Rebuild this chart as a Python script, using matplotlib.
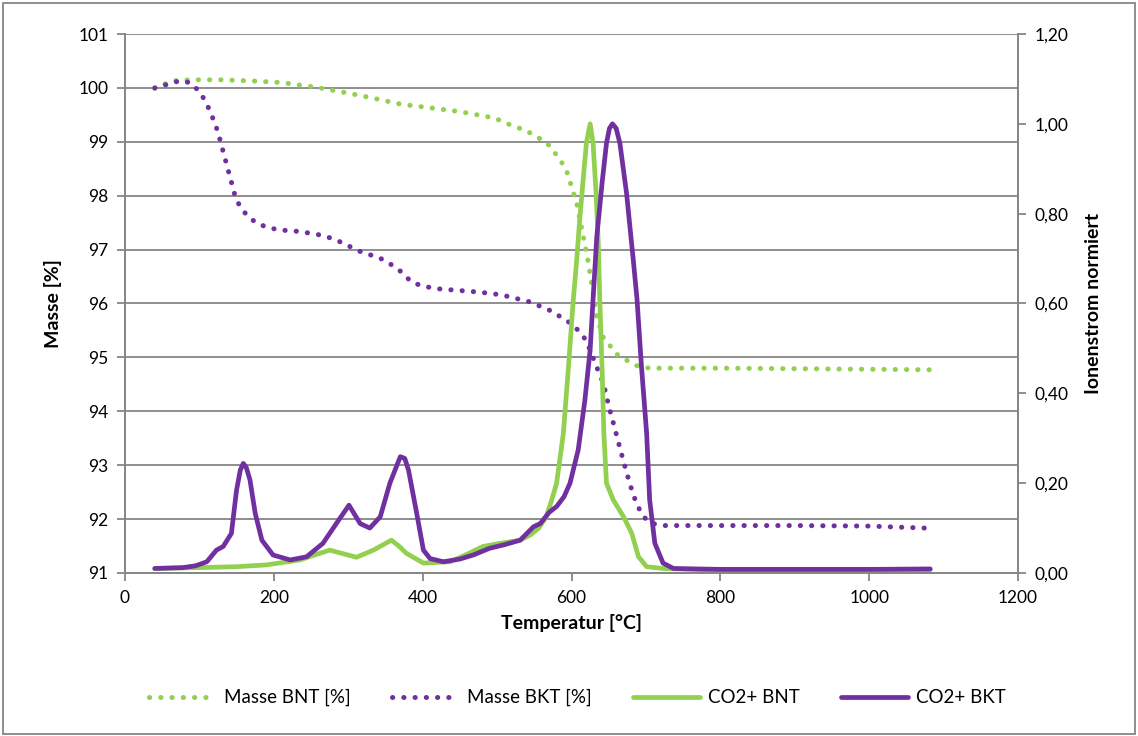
import matplotlib

matplotlib.use("Agg")
import matplotlib.pyplot as plt
from matplotlib.patches import Rectangle
from matplotlib.ticker import FuncFormatter

plt.rcParams["font.family"] = ["Lato", "DejaVu Sans"]

GREEN = "#92D050"
PURPLE = "#7030A0"
GRAY = "#868686"

# Masse BNT [%] (left axis)
t_mass_bnt = [40, 55, 70, 90, 130, 170, 210, 253, 290, 330, 370, 410, 450, 497, 511,
              540, 567, 583, 593, 607, 616, 622, 627, 634, 643, 663, 690, 705, 800,
              900, 1000, 1082]
mass_bnt = [99.99, 100.08, 100.14, 100.15, 100.15, 100.13, 100.10, 100.02, 99.93,
            99.82, 99.70, 99.63, 99.56, 99.44, 99.35, 99.20, 98.98, 98.70, 98.48,
            97.86, 97.23, 96.80, 96.38, 95.75, 95.36, 95.03, 94.83, 94.80, 94.80,
            94.79, 94.78, 94.77]

# Masse BKT [%] (left axis)
t_mass_bkt = [40, 58, 73, 87, 99, 107, 114, 120, 125, 129, 137, 145, 149, 157, 167,
              180, 195, 210, 225, 241, 256, 271, 285, 299, 313, 328, 343, 358, 370,
              385, 400, 423, 450, 477, 500, 515, 544, 573, 598, 610, 620, 631, 643,
              650, 658, 666, 674, 683, 689, 696, 705, 722, 800, 900, 1000, 1082]
mass_bkt = [100.00, 100.07, 100.13, 100.10, 99.95, 99.78, 99.58, 99.37, 99.18, 98.97,
            98.56, 98.15, 97.94, 97.75, 97.59, 97.47, 97.40, 97.36, 97.35, 97.32,
            97.29, 97.24, 97.17, 97.08, 96.98, 96.91, 96.84, 96.72, 96.60, 96.40,
            96.32, 96.27, 96.24, 96.21, 96.17, 96.13, 96.03, 95.86, 95.64, 95.49,
            95.31, 94.92, 94.51, 94.10, 93.69, 93.27, 92.86, 92.45, 92.24, 92.06,
            91.93, 91.88, 91.88, 91.88, 91.87, 91.83]

# CO2+ BNT, normalised ion current (right axis)
t_co2_bnt = [40, 101, 150, 190, 235, 255, 275, 293, 311, 334, 358, 368, 378, 401, 437,
             460, 481, 504, 531, 545, 556, 566, 573, 580, 589, 596, 602, 607, 611, 616,
             620, 625, 629, 633, 636, 638, 641, 643.5, 647, 656, 670, 681, 690, 701,
             723, 800, 900, 1000, 1082]
co2_bnt = [0.010, 0.012, 0.014, 0.018, 0.029, 0.040, 0.051, 0.043, 0.035, 0.051, 0.073,
           0.060, 0.044, 0.022, 0.025, 0.042, 0.059, 0.066, 0.073, 0.085, 0.100, 0.125,
           0.160, 0.200, 0.310, 0.460, 0.600, 0.697, 0.786, 0.882, 0.957, 1.000, 0.957,
           0.845, 0.734, 0.610, 0.460, 0.310, 0.200, 0.163, 0.125, 0.088, 0.036, 0.014,
           0.010, 0.006, 0.006, 0.006, 0.007]

# CO2+ BKT, normalised ion current (right axis)
t_co2_bkt = [40, 78, 95, 110, 123, 132, 143, 150, 155, 159, 163, 168, 175, 184, 199,
             222, 244, 266, 284, 301, 316, 329, 343, 356, 370, 376, 381, 392, 401, 410,
             428, 450, 468, 490, 510, 531, 549, 558, 570, 580, 590, 598, 609, 618, 625,
             629, 634, 641, 647, 651, 655, 660, 665, 674, 683, 688, 694, 701, 705, 712,
             723, 737, 800, 900, 1000, 1082]
co2_bkt = [0.010, 0.012, 0.016, 0.025, 0.051, 0.059, 0.088, 0.185, 0.229, 0.244, 0.235,
           0.207, 0.133, 0.073, 0.040, 0.029, 0.036, 0.066, 0.110, 0.151, 0.110, 0.100,
           0.125, 0.200, 0.259, 0.255, 0.229, 0.133, 0.051, 0.032, 0.025, 0.031, 0.040,
           0.055, 0.063, 0.073, 0.103, 0.110, 0.135, 0.148, 0.170, 0.200, 0.274, 0.385,
           0.496, 0.610, 0.749, 0.867, 0.957, 0.990, 1.000, 0.990, 0.957, 0.845, 0.697,
           0.610, 0.460, 0.310, 0.163, 0.066, 0.022, 0.010, 0.008, 0.008, 0.008, 0.009]

labels = ["Masse BNT [%]", "Masse BKT [%]", "CO2+ BNT", "CO2+ BKT"]

fig = plt.figure(figsize=(11.38, 7.36), dpi=100)
ax = fig.add_axes([0.1098, 0.2215, 0.7848, 0.7323])
ax2 = ax.twinx()

dotted = dict(linestyle=(0, (0.05, 2.2)), linewidth=3.6, dash_capstyle="round")
h1, = ax.plot(t_mass_bnt, mass_bnt, color=GREEN, label=labels[0], **dotted)
h2, = ax.plot(t_mass_bkt, mass_bkt, color=PURPLE, label=labels[1], **dotted)
solid = dict(linewidth=3.4, solid_joinstyle="round", solid_capstyle="round")
h3, = ax2.plot(t_co2_bnt, co2_bnt, color=GREEN, label=labels[2], **solid)
h4, = ax2.plot(t_co2_bkt, co2_bkt, color=PURPLE, label=labels[3], **solid)

ax.set_xlim(0, 1200)
ax.set_ylim(91, 101)
ax.set_xticks(range(0, 1201, 200))
ax.set_yticks(range(91, 102))
ax2.set_ylim(0, 1.2)
ax2.set_yticks([0, 0.2, 0.4, 0.6, 0.8, 1.0, 1.2])
ax2.yaxis.set_major_formatter(FuncFormatter(lambda v, _: f"{v:.2f}".replace(".", ",")))

ax.yaxis.grid(True, color=GRAY, linewidth=1.3)
ax.set_axisbelow(True)
for a in (ax, ax2):
    for side in a.spines.values():
        side.set_color(GRAY)
        side.set_linewidth(1.3)
    a.tick_params(axis="both", direction="out", length=6, width=1.3, color=GRAY,
                  labelsize=12.5, labelcolor="black", pad=6)
ax.spines["top"].set_visible(False)
ax2.spines["top"].set_visible(False)

ax.set_xlabel("Temperatur [°C]", fontsize=14, fontweight="bold", labelpad=6)
ax.set_ylabel("Masse [%]", fontsize=14, fontweight="bold", labelpad=12)
ax2.set_ylabel("Ionenstrom normiert", fontsize=14, fontweight="bold", labelpad=12)

fig.legend([h1, h2, h3, h4], labels, loc="center", bbox_to_anchor=(0.507, 0.052),
           ncol=4, frameon=False, fontsize=13.5, handlelength=3.6, handletextpad=0.4,
           columnspacing=2.2)

fig.patches.append(Rectangle((0.003, 0.003), 0.994, 0.993, transform=fig.transFigure,
                             fill=False, edgecolor=GRAY, linewidth=1.3))

fig.savefig("out.png", dpi=100)
